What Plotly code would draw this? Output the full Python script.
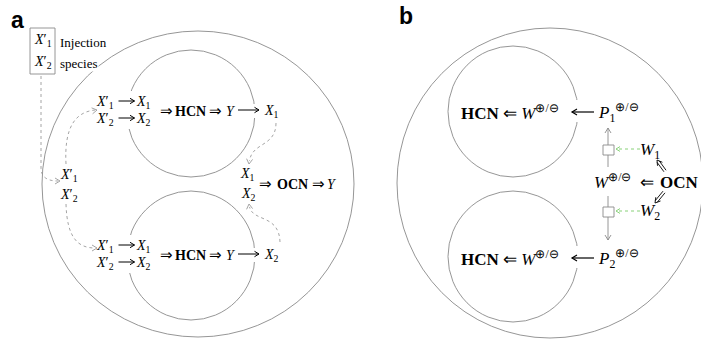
import math
import plotly.graph_objects as go

W, H = 701, 339
SERIF = "Liberation Serif"
SANS = "Liberation Sans"
GREY = "#8a8a8a"
DASH = "#9a9a9a"
GREEN = "#7ccc6a"

# ---- diagram content -------------------------------------------------------
panel_labels = ["a", "b"]
panel_label_x = [17, 406]

inj_species = ["<i>X</i>′<sub>1</sub>", "<i>X</i>′<sub>2</sub>"]
inj_caption = ["Injection", "species"]

feed_in = ["<i>X</i>′<sub>1</sub>", "<i>X</i>′<sub>2</sub>"]
feed_out = ["<i>X</i><sub>1</sub>", "<i>X</i><sub>2</sub>"]
hcn_chain = ["⇒", "<b>HCN</b>", "⇒", "<i>Y</i>"]
hcn_chain_x = [166, 190, 215, 231]
hcn_outputs = ["<i>X</i><sub>1</sub>", "<i>X</i><sub>2</sub>"]
loop_rows_y = [111, 255]

ocn_inputs = ["<i>X</i><sub>1</sub>", "<i>X</i><sub>2</sub>"]
ocn_chain = ["⇒", "<b>OCN</b>", "⇒", "<i>Y</i>"]
ocn_chain_x = [265, 292, 318, 332]

b_row = "<b>HCN</b> ⇐ <i>W</i><sup>⊕/⊖</sup>"
b_regulators = ["<i>P</i><sub>1</sub><sup>⊕/⊖</sup>", "<i>P</i><sub>2</sub><sup>⊕/⊖</sup>"]
b_rows_y = [112, 258]
b_centre = ["<i>W</i><sup>⊕/⊖</sup>", "⇐", "<b>OCN</b>"]
b_signals = ["<i>W</i><sub>1</sub>", "<i>W</i><sub>2</sub>"]
b_signals_y = [151, 212]

fig = go.Figure()
shapes, ann = [], []


def text(x, y, s, size=14, xanchor="center", bg=None, color="black", family=SERIF):
    ann.append(dict(x=x, y=y, text=s, showarrow=False, xanchor=xanchor, yanchor="middle",
                    font=dict(family=family, size=size, color=color),
                    bgcolor=bg if bg else "rgba(0,0,0,0)", borderpad=0))


def ellipse(x0, y0, x1, y1, color=GREY, width=0.9):
    shapes.append(dict(type="circle", x0=x0, y0=y0, x1=x1, y1=y1,
                       line=dict(color=color, width=width), layer="below"))


def mask(x0, y0, x1, y1):
    shapes.append(dict(type="rect", x0=x0, y0=y0, x1=x1, y1=y1,
                       fillcolor="white", line=dict(width=0), layer="below"))


def path(d, color=DASH, width=0.9, dash="dot"):
    shapes.append(dict(type="path", path=d, line=dict(color=color, width=width, dash=dash),
                       layer="below"))


def head(tip, frm, color=DASH, size=5, width=0.9):
    dx, dy = tip[0] - frm[0], tip[1] - frm[1]
    n = math.hypot(dx, dy)
    ux, uy = dx / n, dy / n
    px, py = -uy, ux
    a = (tip[0] - size * ux + 0.6 * size * px, tip[1] - size * uy + 0.6 * size * py)
    b = (tip[0] - size * ux - 0.6 * size * px, tip[1] - size * uy - 0.6 * size * py)
    shapes.append(dict(type="path",
                       path=f"M {a[0]:.1f} {a[1]:.1f} L {tip[0]} {tip[1]} L {b[0]:.1f} {b[1]:.1f}",
                       line=dict(color=color, width=width), layer="below"))


def line(x0, y0, x1, y1, color=GREY, width=0.9, dash="solid"):
    shapes.append(dict(type="line", x0=x0, y0=y0, x1=x1, y1=y1,
                       line=dict(color=color, width=width, dash=dash), layer="below"))


def long_arrow(x0, x1, y, color="black", width=1.0, size=4.5):
    line(x0, y, x1, y, color=color, width=width)
    head((x1, y), (x0, y), color=color, size=size, width=width)


def double_arrow(frm, tip, color="black", gap=1.3, size=5):
    dx, dy = tip[0] - frm[0], tip[1] - frm[1]
    n = math.hypot(dx, dy)
    ux, uy = dx / n, dy / n
    px, py = -uy * gap, ux * gap
    for s in (1, -1):
        line(frm[0] + s * px, frm[1] + s * py,
             tip[0] - 2 * ux + s * px, tip[1] - 2 * uy + s * py, color=color, width=0.9)
    head(tip, frm, color=color, size=size, width=0.9)


# ---- panel a -----------------------------------------------------------------
text(panel_label_x[0], 20, f"<b>{panel_labels[0]}</b>", size=23, family=SANS)

ellipse(42, 31, 354, 337)
ellipse(127, 50, 255, 177)
ellipse(127, 191, 255, 320)

shapes.append(dict(type="rect", x0=30, y0=28, x1=55, y1=74,
                   line=dict(color=GREY, width=0.9)))
text(42.5, 40, inj_species[0])
text(42.5, 62, inj_species[1])
text(59, 42, inj_caption[0], size=13, xanchor="left", bg="white")
text(59, 63, inj_caption[1], size=13, xanchor="left", bg="white")

# injected species entering the system
text(69, 175, inj_species[0])
text(69, 195, inj_species[1])
path("M 41 76 L 41 168 Q 41 181 58 181")
head((60, 181), (50, 181))
path("M 66 164 C 64 126, 76 112, 95 110")
head((97, 110), (88, 111.5))
path("M 66 204 C 67 238, 78 248, 95 248")
head((97, 248), (88, 248))

for ry in loop_rows_y:
    mask(99, ry - 20, 150, ry + 18)
    mask(236, ry - 7, 259, ry + 7)
    for dy, lab_in, lab_out in zip((-9, 8), feed_in, feed_out):
        text(105, ry + dy, lab_in)
        long_arrow(118.5, 134.5, ry + dy - 1)
        text(143.5, ry + dy, lab_out)
    for lab, cx in zip(hcn_chain, hcn_chain_x):
        text(cx, ry, lab, size=15 if lab == "⇒" else 14)
    long_arrow(238, 259, ry - 1)
for ry, lab in zip(loop_rows_y, hcn_outputs):
    text(271, ry, lab)

# outputs feeding the OCN stage
text(247, 174, ocn_inputs[0])
text(248, 194, ocn_inputs[1])
for lab, cx in zip(ocn_chain, ocn_chain_x):
    text(cx, 184, lab, size=15 if lab == "⇒" else 14)
path("M 276 123 C 276 147, 252 142, 249.5 161")
head((249, 164), (250, 156))
path("M 280 242 C 279 214, 253 222, 249.5 207")
head((249, 204), (250, 212))

# ---- panel b -----------------------------------------------------------------
text(panel_label_x[1], 16, f"<b>{panel_labels[1]}</b>", size=23, family=SANS)

ellipse(397, 28, 703, 338)
ellipse(448, 46, 578, 177)
ellipse(448, 191, 578, 322)

for ry, reg in zip(b_rows_y, b_regulators):
    text(460, ry, b_row, size=17, xanchor="left")
    mask(570, ry - 12, 596, ry + 10)
    long_arrow(594, 572, ry, width=1.2, size=5)
    text(597, ry, reg, size=17, xanchor="left")

mask(660, 170, 701, 194)
text(612, 181, b_centre[0], size=17)
text(647, 182, b_centre[1], size=17)
text(679, 182, b_centre[2], size=17)

for sy, lab in zip(b_signals_y, b_signals):
    text(650, sy, lab, size=17)
double_arrow((665, 171), (657, 160))
double_arrow((664, 192), (655, 203))

# regulatory switches between the two circuits
line(608, 128, 608, 145)
head((608, 128), (608, 136), color=GREY)
shapes.append(dict(type="rect", x0=603, y0=145, x1=614, y1=155, line=dict(color=GREY, width=0.9)))
line(608, 155, 608, 167)
line(608, 196, 608, 207)
shapes.append(dict(type="rect", x0=603, y0=207, x1=614, y1=217, line=dict(color=GREY, width=0.9)))
line(608, 217, 608, 240)
head((608, 240), (608, 232), color=GREY)

for sy in [149, 211]:
    line(640, sy, 616, sy, color=GREEN, dash="dot")
    head((616, sy), (624, sy), color=GREEN, size=4)

fig.update_layout(
    width=W, height=H, margin=dict(l=0, r=0, t=0, b=0),
    paper_bgcolor="white", plot_bgcolor="white",
    xaxis=dict(range=[0, W], visible=False, fixedrange=True),
    yaxis=dict(range=[H, 0], visible=False, fixedrange=True),
    shapes=shapes, annotations=ann, showlegend=False,
)
fig.write_html("out.html")
